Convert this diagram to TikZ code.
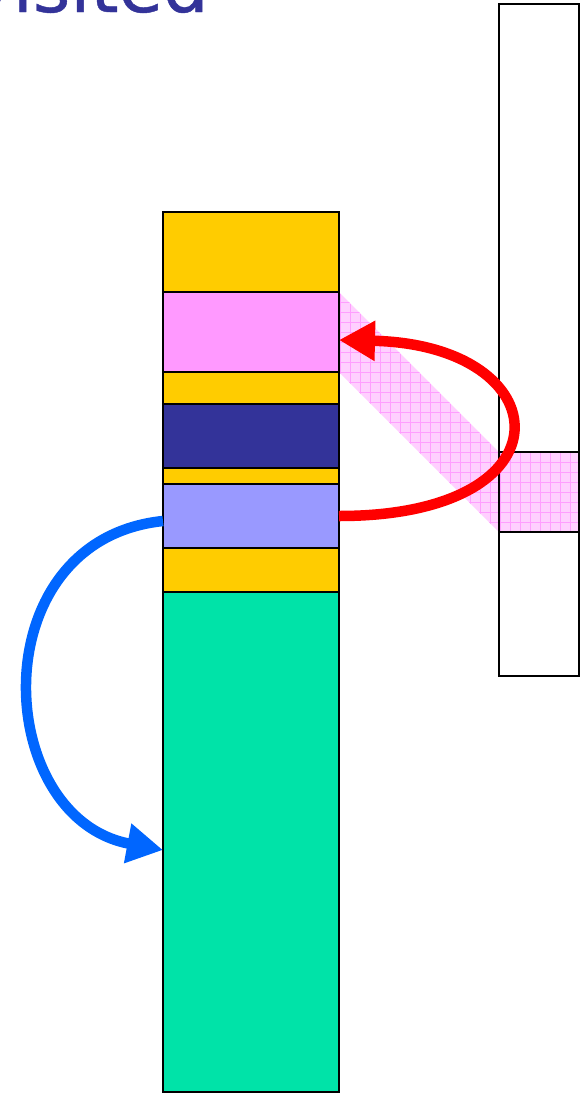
\documentclass[tikz,border=0pt]{standalone}
\usepackage{fontspec}
\newfontfamily\titlefont[FakeBold=0.6]{DejaVu Sans}
\usetikzlibrary{arrows.meta}
\definecolor{ttl}{HTML}{333399}
\definecolor{yel}{HTML}{FFCC00}
\definecolor{pnk}{HTML}{FF99FF}
\definecolor{dkb}{HTML}{333399}
\definecolor{lav}{HTML}{9999FF}
\definecolor{grn}{HTML}{00E3A8}
\definecolor{pinkl}{HTML}{FFD0FF}
\definecolor{pinkg}{HTML}{FF9EFF}
\definecolor{redc}{HTML}{FF0000}
\definecolor{bluec}{HTML}{0066FF}
\begin{document}
\begin{tikzpicture}[x=1pt,y=-1pt,
  seg/.style={draw=black,line width=1.8pt,inner sep=0pt,outer sep=0pt,minimum width=176pt},
  rcol/.style={draw=black,line width=1.8pt,inner sep=0pt,outer sep=0pt,minimum width=80pt},
  redarr/.style={draw=redc,line width=10.5pt,-{Triangle[length=36pt,width=38pt]}},
  bluearr/.style={draw=bluec,line width=10.5pt,-{Triangle[length=36pt,width=38pt]}}]
\useasboundingbox (0,0) rectangle (585,1096);
\clip (0,0) rectangle (585,1096);
% title
\node[anchor=base west,inner sep=0pt,text=ttl,font=\titlefont\fontsize{72}{72}\selectfont] (title) at (-30,12) {visited};
% right column (nodes only as anchors first)
\path (539,340) node[rcol,minimum height=672pt,draw=none] (rc) {};
\path (539,492) node[rcol,minimum height=80pt,draw=none] (phb) {};
\path (251,332) node[seg,minimum height=80pt,draw=none] (pkp) {};
% hatched band
\fill[pinkl] (pkp.north east) -- (phb.north west) -- (phb.south west) -- (pkp.south east) -- cycle;
\fill[pinkl] (phb.north west) rectangle (phb.south east);
\begin{scope}
  \clip (pkp.north east) -- (phb.north west) -- (phb.north east) -- (phb.south east) -- (phb.south west) -- (pkp.south east) -- cycle;
  \foreach \i in {0,...,26} {
    \draw[pinkg,line width=0.7pt] (330+10*\i,280) -- (330+10*\i,540);
    \draw[pinkg,line width=0.7pt] (330,282+10*\i) -- (590,282+10*\i);
  }
\end{scope}
% right column outlines
\draw[black,line width=1.8pt] (rc.north west) rectangle (rc.south east);
\draw[black,line width=1.8pt] (phb.north west) rectangle (phb.south east);
% main column
\node[seg,fill=yel,minimum height=80pt] (y1) at (251,252) {};
\node[seg,fill=pnk,minimum height=80pt] (pk) at (251,332) {};
\node[seg,fill=yel,minimum height=32pt] (y2) at (251,388) {};
\node[seg,fill=dkb,minimum height=64pt] (db) at (251,436) {};
\node[seg,fill=yel,minimum height=16pt] (y3) at (251,476) {};
\node[seg,fill=lav,minimum height=64pt] (lv) at (251,516) {};
\node[seg,fill=yel,minimum height=44pt] (y4) at (251,570) {};
\node[seg,fill=grn,minimum height=500pt] (gr) at (251,842) {};
% arrows
\draw[redarr] (lv.east) .. controls (575,516) and (560,345) .. ([yshift=-8pt]pk.east);
\draw[bluearr] ([yshift=-5pt]lv.west) .. controls (-20,540) and (-8,818) .. ([yshift=-8pt]gr.west);
\end{tikzpicture}
\end{document}
